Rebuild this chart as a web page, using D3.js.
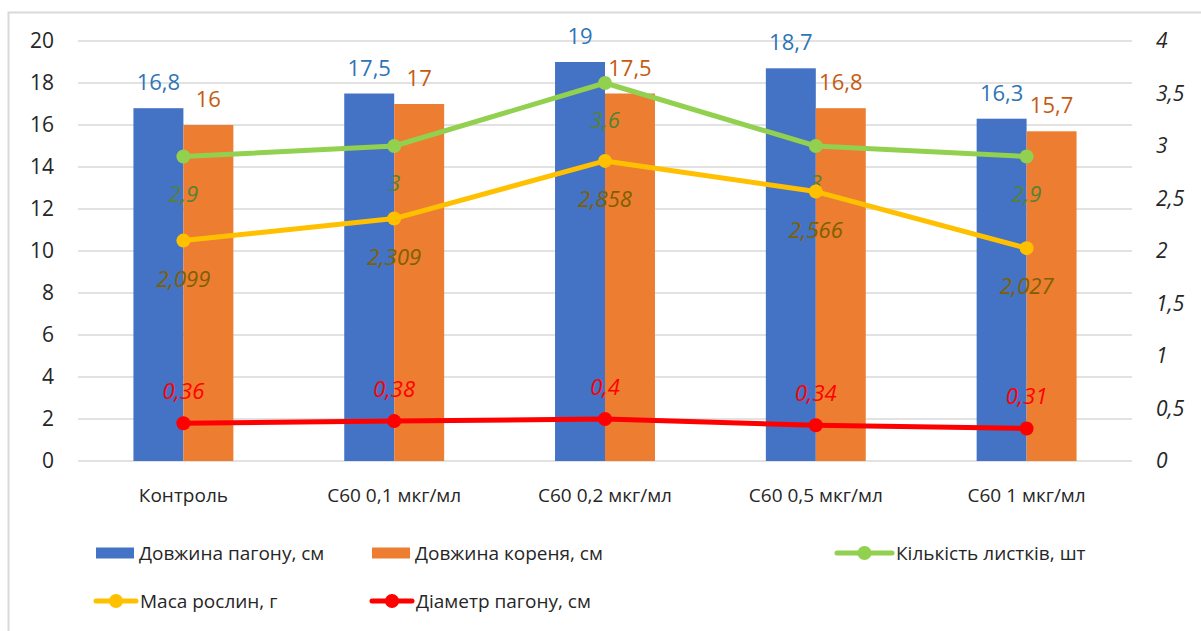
<!DOCTYPE html>
<html>
<head>
<meta charset="utf-8">
<script src="https://cdn.jsdelivr.net/npm/d3@7"></script>
<style>
  html, body { margin: 0; padding: 0; background: #fff; }
  svg { display: block; font-family: "Open Sans", "Noto Sans", sans-serif; }
</style>
</head>
<body>
<svg id="chart" width="1201" height="631"></svg>
<script>
// Categories (treatments)
const categories = ["Контроль", "C60 0,1 мкг/мл", "C60 0,2 мкг/мл", "C60 0,5 мкг/мл", "C60 1 мкг/мл"];

// Bar series (left axis, cm)
const shootLength = [16.8, 17.5, 19, 18.7, 16.3];
const rootLength  = [16, 17, 17.5, 16.8, 15.7];

// Line series (right axis)
const leafCount   = [2.9, 3, 3.6, 3, 2.9];
const plantMass   = [2.099, 2.309, 2.858, 2.566, 2.027];
const shootDiam   = [0.36, 0.38, 0.4, 0.34, 0.31];

// Axis ticks
const leftTicks  = [0, 2, 4, 6, 8, 10, 12, 14, 16, 18, 20];
const rightTicks = [0, 0.5, 1, 1.5, 2, 2.5, 3, 3.5, 4];

const barNames  = ["Довжина пагону, см", "Довжина кореня, см"];
const lineNames = ["Кількість листків, шт", "Маса рослин, г", "Діаметр пагону, см"];

const fmt = v => String(v).replace(".", ",");

const svg = d3.select("#chart");

const plot = { left: 78, right: 1132, top: 41, bottom: 461 };

// Outer frame
svg.append("rect")
  .attr("x", 8.5).attr("y", 12.5)
  .attr("width", 1300).attr("height", 700)
  .attr("fill", "none").attr("stroke", "#d9d9d9").attr("stroke-width", 2);

const x = d3.scaleBand().domain(categories).range([plot.left, plot.right]).paddingInner(0).paddingOuter(0);
const yL = d3.scaleLinear().domain([0, 20]).range([plot.bottom, plot.top]);
const yR = d3.scaleLinear().domain([0, 4]).range([plot.bottom, plot.top]);

const groupW = x.bandwidth() * 0.474;
const x1 = d3.scaleBand().domain([0, 1]).range([0, groupW]);
const cx = c => x(c) + x.bandwidth() / 2;

// Gridlines
svg.append("g")
  .selectAll("line").data(leftTicks).join("line")
  .attr("x1", plot.left).attr("x2", plot.right)
  .attr("y1", d => yL(d)).attr("y2", d => yL(d))
  .attr("stroke", "#d9d9d9").attr("stroke-width", 1.5);

// Left axis labels
const leftAxis = d3.axisLeft(yL).tickValues(leftTicks).tickSize(0).tickPadding(0).tickFormat(fmt);
const gL = svg.append("g").attr("transform", `translate(${plot.left - 24},0)`).call(leftAxis);
gL.select(".domain").remove();
gL.selectAll("text").attr("font-size", 21).attr("fill", "#262626").attr("font-family", "Open Sans");

// Right axis labels
const rightAxis = d3.axisRight(yR).tickValues(rightTicks).tickSize(0).tickPadding(0).tickFormat(fmt);
const gR = svg.append("g").attr("transform", `translate(${plot.right + 24},0)`).call(rightAxis);
gR.select(".domain").remove();
gR.selectAll("text").attr("font-size", 21).attr("fill", "#262626").attr("font-style", "italic").attr("font-family", "Open Sans");

// Category axis
const xAxis = d3.axisBottom(x).tickSize(0).tickPadding(0);
const gX = svg.append("g").attr("transform", `translate(0,${plot.bottom + 27})`).call(xAxis);
gX.select(".domain").remove();
gX.selectAll("text").attr("font-size", 19).attr("fill", "#262626").attr("font-family", "Open Sans");

// Bars
const barSeries = [
  { values: shootLength, color: "#4472c4", label: "#2e75b6" },
  { values: rootLength,  color: "#ed7d31", label: "#c55a11" }
];
barSeries.forEach((s, si) => {
  const g = svg.append("g");
  g.selectAll("rect").data(categories).join("rect")
    .attr("x", c => cx(c) - groupW / 2 + x1(si))
    .attr("width", x1.bandwidth())
    .attr("y", (c, i) => yL(s.values[i]))
    .attr("height", (c, i) => plot.bottom - yL(s.values[i]))
    .attr("fill", s.color);
  g.selectAll("text").data(categories).join("text")
    .attr("x", c => cx(c) - groupW / 2 + x1(si) + x1.bandwidth() / 2)
    .attr("y", (c, i) => yL(s.values[i]) - 18)
    .attr("text-anchor", "middle")
    .attr("font-size", 22)
    .attr("fill", s.label)
    .text((c, i) => fmt(s.values[i]));
});

// Lines
const lineSeries = [
  { values: leafCount, color: "#92d050", label: "#548235", dy: 45 },
  { values: plantMass, color: "#ffc000", label: "#7f6000", dy: 46 },
  { values: shootDiam, color: "#ff0000", label: "#ff0000", dy: -24 }
];
const lineGen = d3.line().x(d => cx(d.c)).y(d => yR(d.v));
lineSeries.forEach(s => {
  const pts = categories.map((c, i) => ({ c, v: s.values[i] }));
  const g = svg.append("g");
  g.append("path").attr("d", lineGen(pts))
    .attr("fill", "none").attr("stroke", s.color).attr("stroke-width", 5)
    .attr("stroke-linejoin", "round").attr("stroke-linecap", "round");
  g.selectAll("circle").data(pts).join("circle")
    .attr("cx", d => cx(d.c)).attr("cy", d => yR(d.v)).attr("r", 7)
    .attr("fill", s.color);
  g.selectAll("text").data(pts).join("text")
    .attr("x", d => cx(d.c)).attr("y", d => yR(d.v) + s.dy)
    .attr("text-anchor", "middle")
    .attr("font-size", 22).attr("font-style", "italic")
    .attr("fill", s.label)
    .text(d => fmt(d.v));
});

// Legend
const legend = svg.append("g").attr("font-size", 19).attr("fill", "#262626");
const legendItems = [
  { type: "bar",  color: "#4472c4", name: barNames[0],  x: 96,  y: 553 },
  { type: "bar",  color: "#ed7d31", name: barNames[1],  x: 372, y: 553 },
  { type: "line", color: "#92d050", name: lineNames[0], x: 837, y: 553 },
  { type: "line", color: "#ffc000", name: lineNames[1], x: 96,  y: 601 },
  { type: "line", color: "#ff0000", name: lineNames[2], x: 372, y: 601 }
];
legendItems.forEach(it => {
  const g = legend.append("g").attr("transform", `translate(${it.x},${it.y})`);
  let tx;
  if (it.type === "bar") {
    g.append("rect").attr("x", 0).attr("y", -5.5).attr("width", 38).attr("height", 11).attr("fill", it.color);
    tx = 43;
  } else {
    const w = it.name === lineNames[0] ? 55 : 40;
    g.append("line").attr("x1", 0).attr("x2", w).attr("y1", 0).attr("y2", 0)
      .attr("stroke", it.color).attr("stroke-width", 5).attr("stroke-linecap", "round");
    g.append("circle").attr("cx", w / 2).attr("cy", 0).attr("r", 7).attr("fill", it.color);
    tx = w + 4;
  }
  g.append("text").attr("x", tx).attr("y", 0).attr("dy", "0.35em").text(it.name);
});
</script>
</body>
</html>
